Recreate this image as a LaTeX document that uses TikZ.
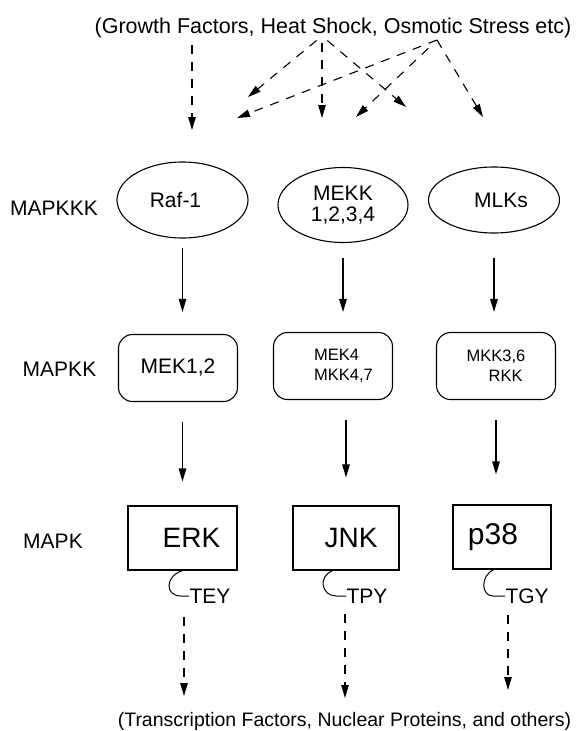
\documentclass[tikz,border=0pt]{standalone}
\usepackage{fontspec}
\setsansfont{Liberation Sans}
\usetikzlibrary{arrows.meta,shapes.geometric}
\newcommand{\fs}[1]{\fontsize{#1}{#1}\selectfont}

\begin{document}
\begin{tikzpicture}[x=1pt,y=-1pt,font=\sffamily,line width=1.1pt,
  >={Triangle[length=13pt,width=7.5pt]},
  lvl/.style={font=\sffamily\fs{21},inner sep=0pt},
  kkk/.style={ellipse,draw,inner sep=0pt,font=\sffamily\fs{21},align=center},
  kk/.style={draw,rounded corners=14pt,minimum width=119pt,minimum height=67pt,inner sep=0pt,align=left},
  mapk/.style={draw,minimum height=64pt,inner sep=0pt,font=\sffamily\fs{28}},
  site/.style={font=\sffamily\fs{21},inner sep=0pt,anchor=west},
  arr/.style={->},
  darr/.style={->,dash pattern=on 9pt off 8pt},
  wire/.style={line width=1pt}]
  \useasboundingbox (0,0) rectangle (583,731);
  % stimuli
  \node[font=\sffamily\fs{21.5},anchor=base,inner sep=0pt] (stim) at (333,33) {(Growth Factors, Heat Shock, Osmotic Stress etc)};
  \coordinate (srcA) at (192,37);
  \coordinate (srcB) at (322,36);
  \coordinate (srcC) at (437,40);
  \coordinate (tA) at (192,130);
  \coordinate (tB1) at (248,97);
  \coordinate (tB2) at (322,118);
  \coordinate (tB3) at (406,107);
  \coordinate (tC1) at (237,118);
  \coordinate (tC2) at (356,117);
  \coordinate (tC3) at (483,117);
  \draw[darr,shorten <=8pt] (srcA) -- (tA);
  \foreach \t in {tB1,tB2,tB3}
    \draw[darr,shorten <=7pt] (srcB) -- (\t);
  \draw[darr] (srcC) -- (tC1);
  \draw[darr,shorten <=12pt] (srcC) -- (tC2);
  \draw[darr] (srcC) -- (tC3);

  % MAPKKK
  \node[lvl] (l3) at (54,208) {MAPKKK};
  \node[kkk,minimum width=131pt,minimum height=76pt] (raf) at (182.5,200) {Raf-1\hspace*{14pt}};
  \node[kkk,minimum width=130pt,minimum height=75pt] (mekk) at (343,205) {MEKK\\1,2,3,4};
  \node[kkk,minimum width=131pt,minimum height=66pt] (mlk) at (494,200) {\hspace*{14pt}MLKs};

  % MAPKK
  \node[lvl] (l2) at (59.5,369) {MAPKK};
  \node[kk,font=\sffamily\fs{21}] (mek12) at (178,368) {MEK1,2};
  \node[kk,font=\sffamily\fontsize{16.5}{20}\selectfont] (mek4) at (333,366)
    {\hspace*{21pt}MEK4\\\hspace*{21pt}MKK4,7};
  \node[kk,font=\sffamily\fontsize{16.5}{20}\selectfont] (mkk36) at (496,366)
    {MKK3,6\\\hspace*{22pt}RKK};

  % MAPK
  \node[lvl] (l1) at (53,541) {MAPK};
  \node[mapk,minimum width=109pt] (erk) at (182.5,538) {\hspace*{18pt}ERK};
  \node[mapk,minimum width=106pt] (jnk) at (346,538) {\hspace*{10pt}JNK};
  \node[mapk,minimum width=98pt,font=\sffamily\fs{30}] (p38) at (502,537) {p38\hspace*{18pt}};

  % kinase cascade
  \draw[arr,shorten <=9pt,shorten >=22pt] (raf.south) -- (raf.south |- mek12.north);
  \draw[arr,shorten <=15pt,shorten >=20pt] (mekk.south) -- (mekk.south |- mek4.north);
  \draw[arr,shorten <=24pt,shorten >=20pt] (mlk.south) -- (mlk.south |- mkk36.north);
  \draw[arr,shorten <=20pt,shorten >=24pt] (mek12.south -| erk) -- (erk.north);
  \draw[arr,shorten <=20pt,shorten >=28pt] (mek4.south -| jnk) -- (jnk.north);
  \draw[arr,shorten <=20pt,shorten >=30pt] (mkk36.south) -- (mkk36.south |- p38.north);

  % activation loops
  \node[site] (tey) at (189,596) {TEY};
  \node[site] (tpy) at (346,596) {TPY};
  \node[site] (tgy) at (505,596) {TGY};
  \draw[wire] (erk.south) .. controls +(-18,6) and +(-16,0) .. ([xshift=-8pt]tey.west) -- (tey.west);
  \draw[wire] ([xshift=-13pt]jnk.south) .. controls +(-16,6) and +(-14,0) .. ([xshift=-10pt]tpy.west) -- (tpy.west);
  \draw[wire] ([xshift=-8pt]p38.south) .. controls +(-14,6) and +(-12,0) .. ([xshift=-12pt]tgy.west) -- (tgy.west);

  % targets
  \node[font=\sffamily\fs{19.5},anchor=base,inner sep=0pt] (out) at (344.5,726) {(Transcription Factors, Nuclear Proteins, and others)};
  \coordinate (oA) at (184,696);
  \coordinate (oB) at (345,698);
  \coordinate (oC) at (508,690);
  \draw[darr,shorten <=46pt] (oA |- erk.south) -- (oA);
  \draw[darr,shorten <=43pt] (oB |- jnk.south) -- (oB);
  \draw[darr,shorten <=45pt] (oC |- p38.south) -- (oC);
\end{tikzpicture}
\end{document}
